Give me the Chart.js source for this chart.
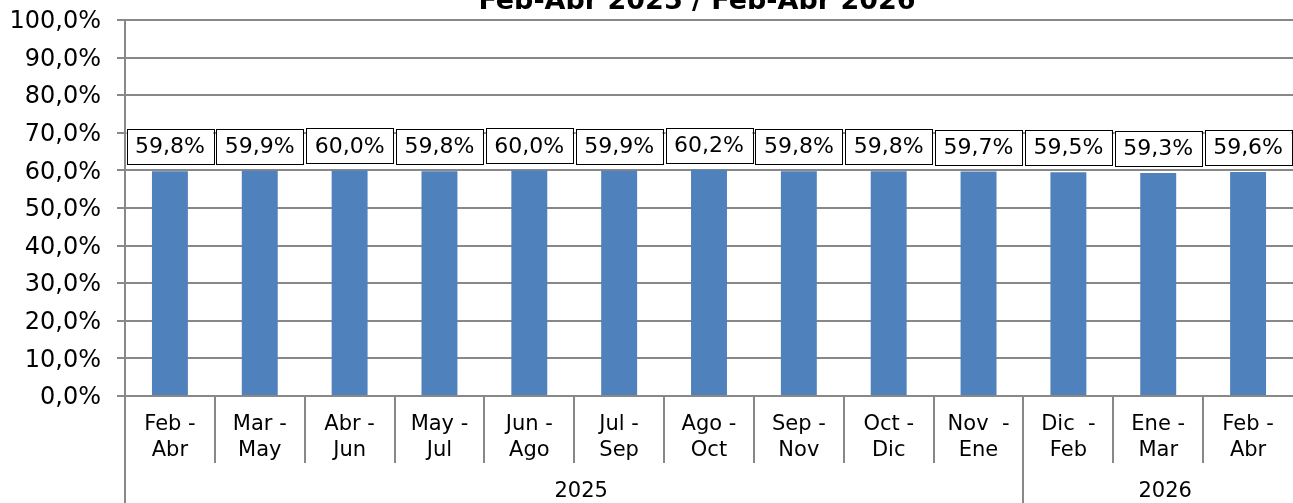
<!DOCTYPE html>
<html>
<head>
<meta charset="utf-8">
<script src="https://cdn.jsdelivr.net/npm/chart.js@4/dist/chart.umd.min.js"></script>
<style>
  html, body { margin: 0; padding: 0; background: #fff; }
  #wrap { width: 1293px; height: 503px; }
</style>
</head>
<body>
<div id="wrap"><canvas id="ratioChart"></canvas></div>
<script>
// data
const periodTop = ['Feb -', 'Mar -', 'Abr -', 'May -', 'Jun -', 'Jul -', 'Ago -', 'Sep -', 'Oct -', 'Nov  -', 'Dic  -', 'Ene -', 'Feb -'];
const periodBottom = ['Abr', 'May', 'Jun', 'Jul', 'Ago', 'Sep', 'Oct', 'Nov', 'Dic', 'Ene', 'Feb', 'Mar', 'Abr'];
const yearLabels = ['2025', '2026'];
const yearSpans = [10, 3];
const values = [59.8, 59.9, 60.0, 59.8, 60.0, 59.9, 60.2, 59.8, 59.8, 59.7, 59.5, 59.3, 59.6];
const yTicks = [0, 10, 20, 30, 40, 50, 60, 70, 80, 90, 100];
const chartTitle = 'Feb-Abr 2025 / Feb-Abr 2026';

const FONT = '"DejaVu Sans", Verdana, sans-serif';
const pct = v => v.toFixed(1).replace('.', ',') + '%';

// Title, y labels, boxed value labels and the two level category axis
const extras = {
    id: 'extras',
    afterDatasetsDraw(chart) {
        const ctx = chart.ctx;
        const area = chart.chartArea;
        const x = chart.scales.x;
        const y = chart.scales.y;
        const step = (area.right - area.left) / values.length;

        ctx.save();
        // title
        ctx.fillStyle = '#000';
        ctx.font = 'bold 27px ' + FONT;
        ctx.textAlign = 'center';
        ctx.textBaseline = 'alphabetic';
        ctx.fillText(chartTitle, 697, 9);

        // y tick labels
        ctx.font = '24px ' + FONT;
        ctx.textAlign = 'right';
        ctx.textBaseline = 'middle';
        yTicks.forEach(t => {
            ctx.fillText(pct(t), 101, y.getPixelForValue(t) + 2);
        });

        // value labels
        ctx.textAlign = 'center';
        ctx.font = '22px ' + FONT;
        const meta = chart.getDatasetMeta(0);
        meta.data.forEach((bar, i) => {
            const w = step - 3;
            const h = 35;
            const bottom = bar.y - 7;
            ctx.fillStyle = '#fff';
            ctx.fillRect(bar.x - w / 2, bottom - h, w, h);
            ctx.strokeStyle = '#000';
            ctx.lineWidth = 1;
            ctx.strokeRect(Math.round(bar.x - w / 2) + 0.5, Math.round(bottom - h) + 0.5, Math.round(w), h);
            ctx.fillStyle = '#000';
            ctx.fillText(pct(values[i]), bar.x, bottom - h / 2 + 1);
        });

        // category axis
        ctx.strokeStyle = '#888';
        ctx.lineWidth = 2;
        const base = area.bottom;
        for (let i = 1; i < values.length; i++) {
            const bx = Math.round(area.left + i * step);
            ctx.beginPath();
            ctx.moveTo(bx, base);
            ctx.lineTo(bx, 463);
            ctx.stroke();
        }
        // left axis down to the bottom
        ctx.beginPath();
        ctx.moveTo(area.left, area.top);
        ctx.lineTo(area.left, chart.height);
        ctx.stroke();

        ctx.fillStyle = '#000';
        ctx.font = '21px ' + FONT;
        for (let i = 0; i < values.length; i++) {
            const cx = x.getPixelForValue(i);
            ctx.fillText(periodTop[i], cx, 425);
            ctx.fillText(periodBottom[i], cx, 451);
        }

        let start = 0;
        yearLabels.forEach((yl, k) => {
            const end = start + yearSpans[k];
            const x0 = area.left + start * step;
            const x1 = area.left + end * step;
            if (end < values.length) {
                ctx.beginPath();
                ctx.moveTo(Math.round(x1), base);
                ctx.lineTo(Math.round(x1), chart.height);
                ctx.stroke();
            }
            ctx.fillText(yl, (x0 + x1) / 2 + 7, 492);
            start = end;
        });
        ctx.restore();
    }
};

const ctx = document.getElementById('ratioChart').getContext('2d');
const ratioChart = new Chart(ctx, {
    type: 'bar',
    data: {
        labels: periodBottom,
        datasets: [{
            data: values,
            backgroundColor: '#4F81BD',
            barPercentage: 0.4,
            categoryPercentage: 1.0
        }]
    },
    options: {
        responsive: true,
        maintainAspectRatio: false,
        animation: false,
        layout: { padding: { top: 20, bottom: 107, left: 0, right: 0 } },
        plugins: {
            legend: { display: false },
            tooltip: { enabled: false },
            title: { display: false }
        },
        scales: {
            x: {
                display: false,
                offset: true
            },
            y: {
                min: 0,
                max: 100,
                ticks: {
                    stepSize: 10,
                    display: false
                },
                grid: {
                    color: '#888',
                    lineWidth: 2,
                    tickLength: 8
                },
                border: { color: '#888', width: 2 },
                afterFit(scale) { scale.width = 125; }
            }
        }
    },
    plugins: [extras]
});
</script>
</body>
</html>
